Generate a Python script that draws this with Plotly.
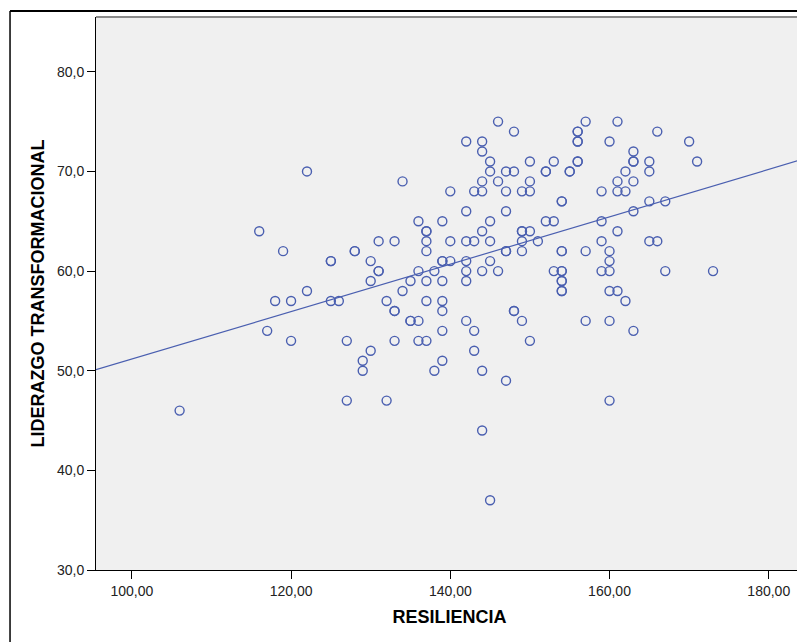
import plotly.graph_objects as go

# RESILIENCIA (x) and LIDERAZGO TRANSFORMACIONAL (y)
resiliencia = [
    122, 116, 119, 125, 125, 122, 118, 120, 125, 126, 117, 120, 127, 128, 106, 127,
    146, 148, 156, 142, 144, 156, 144, 145, 150, 153, 156, 145, 147, 148, 152, 152, 155,
    134, 144, 146, 150, 140, 143, 144, 147, 149, 150, 154, 142, 147,
    136, 139, 145, 152, 153, 137, 137, 144, 149, 149, 150,
    131, 133, 137, 140, 142, 143, 145, 149, 151,
    128, 137, 147, 147, 149, 154,
    130, 139, 139, 140, 142, 145,
    131, 131, 136, 138, 142, 144, 146, 153, 154,
    130, 135, 137, 139, 142, 154,
    134, 154, 132, 137, 139,
    133, 133, 139, 148, 148, 135, 135, 136, 142, 149,
    139, 143, 133, 136, 137, 150, 130, 143,
    129, 139, 129, 138, 144, 147, 132, 144, 145,
    157, 161, 156, 166, 156, 160, 170, 163, 163, 163, 156, 165, 171,
    155, 162, 165, 161, 163, 159, 161, 162, 154, 165, 167, 163, 159, 161,
    159, 165, 166, 154, 157, 160, 160, 154, 159, 160, 167, 173,
    154, 154, 160, 161, 162, 157, 160, 163, 160,
]
liderazgo = [
    70, 64, 62, 61, 61, 58, 57, 57, 57, 57, 54, 53, 53, 62, 46, 47,
    75, 74, 74, 73, 73, 73, 72, 71, 71, 71, 71, 70, 70, 70, 70, 70, 70,
    69, 69, 69, 69, 68, 68, 68, 68, 68, 68, 67, 66, 66,
    65, 65, 65, 65, 65, 64, 64, 64, 64, 64, 64,
    63, 63, 63, 63, 63, 63, 63, 63, 63,
    62, 62, 62, 62, 62, 62,
    61, 61, 61, 61, 61, 61,
    60, 60, 60, 60, 60, 60, 60, 60, 60,
    59, 59, 59, 59, 59, 59,
    58, 58, 57, 57, 57,
    56, 56, 56, 56, 56, 55, 55, 55, 55, 55,
    54, 54, 53, 53, 53, 53, 52, 52,
    51, 51, 50, 50, 50, 49, 47, 44, 37,
    75, 75, 74, 74, 73, 73, 73, 72, 71, 71, 71, 71, 71,
    70, 70, 70, 69, 69, 68, 68, 68, 67, 67, 67, 66, 65, 64,
    63, 63, 63, 62, 62, 62, 61, 60, 60, 60, 60, 60,
    59, 58, 58, 58, 57, 55, 55, 54, 47,
]

# fit line coefficients
fit_intercept = 27.37
fit_slope = 0.238

x_range = [95.5, 184.3]
y_range = [30.0, 85.5]
x_ticks = [100, 120, 140, 160, 180]
y_ticks = [30, 40, 50, 60, 70, 80]

blue = "#4a5fb0"

fig = go.Figure()
fig.add_trace(go.Scatter(
    x=x_range,
    y=[fit_intercept + fit_slope * v for v in x_range],
    mode="lines",
    line=dict(color=blue, width=1.2),
    hoverinfo="skip",
    showlegend=False,
))
fig.add_trace(go.Scatter(
    x=resiliencia, y=liderazgo,
    mode="markers",
    marker=dict(symbol="circle-open", size=9, color=blue, line=dict(width=1.4, color=blue)),
    showlegend=False,
))

axis_font = dict(family="Liberation Sans, Arial, sans-serif", size=14, color="#222222")
title_font = dict(family="Liberation Sans, Arial, sans-serif", size=18, color="#000000")

# the page body adds an 8px margin, so the figure is 8px smaller and margins shifted
fig.update_layout(
    width=797, height=634,
    margin=dict(l=88, r=2, t=9, b=72),
    paper_bgcolor="white",
    plot_bgcolor="#f0f0f0",
    separators=",.",
    xaxis=dict(
        range=x_range, tickvals=x_ticks, tickformat=".2f",
        showgrid=False, zeroline=False,
        showline=True, linecolor="black", linewidth=1,
        ticks="outside", ticklen=8, tickcolor="black", tickwidth=1,
        tickfont=axis_font,
        title=dict(text="<b>RESILIENCIA</b>", font=title_font, standoff=12),
    ),
    yaxis=dict(
        range=y_range, tickvals=y_ticks, tickformat=".1f",
        showgrid=False, zeroline=False,
        showline=True, linecolor="black", linewidth=1,
        ticks="outside", ticklen=8, tickcolor="black", tickwidth=1,
        tickfont=axis_font,
        title=dict(text="<b>LIDERAZGO TRANSFORMACIONAL</b>", font=title_font, standoff=7),
    ),
    shapes=[
        dict(type="line", xref="paper", yref="paper", x0=0, x1=1, y0=1, y1=1,
             line=dict(color="#8a8a8a", width=2)),
        dict(type="line", xref="paper", yref="paper", x0=1, x1=1, y0=0, y1=1,
             line=dict(color="#5a5a5a", width=2)),
        dict(type="line", xref="paper", yref="paper", x0=-0.1216, x1=1.01, y0=1.0108, y1=1.0108,
             line=dict(color="black", width=2)),
        dict(type="line", xref="paper", yref="paper", x0=-0.1216, x1=-0.1216, y0=1.0108, y1=-0.2,
             line=dict(color="black", width=1.5)),
    ],
)

fig.write_html("out.html")
